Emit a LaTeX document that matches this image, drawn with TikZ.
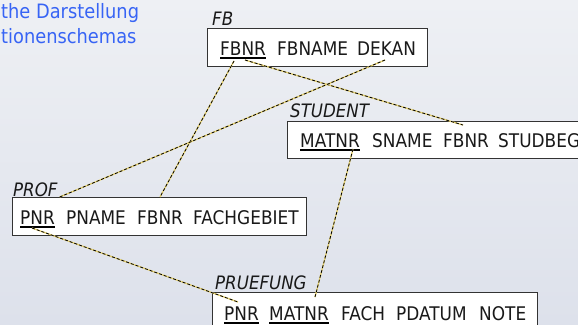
\documentclass[tikz,border=0pt]{standalone}
\usepackage{fontspec}
\setmainfont[FakeStretch=0.9]{DejaVu Sans}
\definecolor{bgA}{RGB}{238,240,244}
\definecolor{bgB}{RGB}{221,225,235}
\definecolor{ttl}{RGB}{55,100,245}
\definecolor{lk}{RGB}{232,210,110}
\tikzset{
  attr/.style={anchor=base west,inner sep=0pt,font=\fontsize{18.8}{20}\selectfont,text=black!90},
  rel/.style={anchor=base west,inner sep=0pt,font=\fontsize{18.5}{20}\selectfont\itshape,text=black!90},
  tbl/.style={draw=black!80,line width=0.9pt,fill=white},
  keyline/.style={line width=1.4pt,black},
  link/.style={line width=0.8pt,black,dash pattern=on 3pt off 2pt,
    preaction={draw=lk,solid,line width=1.3pt}},
  ttlstyle/.style={anchor=base west,inner sep=0pt,text=ttl,font=\fontsize{19.8}{22}\selectfont}
}
\begin{document}
\begin{tikzpicture}[x=1pt,y=-1pt]
\useasboundingbox (0,0) rectangle (578,324);
\shade[top color=bgA,bottom color=bgB] (0,0) rectangle (578,324);
% title
\node[ttlstyle] (t1) at (1,18) {the Darstellung};
\node[ttlstyle] (t2) at (1,43) {tionenschemas};
% tables
\draw[tbl] (207,28) rectangle (427,66);
\draw[tbl] (287,121) rectangle (600,158);
\draw[tbl] (12,197) rectangle (306,235);
\draw[tbl] (212,292) rectangle (537,340);
% relation names
\node[rel] (rfb) at (212,25) {FB};
\node[rel] (rst) at (290,117) {STUDENT};
\node[rel] (rpr) at (13,196) {PROF};
\node[rel] (rpu) at (215,289) {PRUEFUNG};
% FB
\node[attr] (fbfbnr) at (220,55) {FBNR};
\node[attr] (fbname) at (277,55) {FBNAME};
\node[attr] (fbdekan) at (357,55) {DEKAN};
% STUDENT
\node[attr] (stmatnr) at (300,147) {MATNR};
\node[attr] (stsname) at (372,147) {SNAME};
\node[attr] (stfbnr) at (443,147) {FBNR};
\node[attr] (ststudbeg) at (498,147) {STUDBEG};
% PROF
\node[attr] (prpnr) at (20,224) {PNR};
\node[attr] (prpname) at (66,224) {PNAME};
\node[attr] (prfbnr) at (137,224) {FBNR};
\node[attr] (prfach) at (193,224) {FACHGEBIET};
% PRUEFUNG
\node[attr] (pupnr) at (224,320) {PNR};
\node[attr] (pumatnr) at (269,320) {MATNR};
\node[attr] (pufach) at (341,320) {FACH};
\node[attr] (pupdatum) at (396,320) {PDATUM};
\node[attr] (punote) at (479,320) {NOTE};
% key underlines
\foreach \n in {fbfbnr,stmatnr,prpnr,pupnr,pumatnr}{
  \draw[keyline] ([yshift=-3pt]\n.base west) -- ([yshift=-3pt]\n.base east);
}
% connector end points
\coordinate (a1) at ([xshift=14pt,yshift=-6pt]fbfbnr.base west);
\coordinate (a2) at ([xshift=25pt,yshift=-5pt]fbfbnr.base west);
\coordinate (a3) at ([xshift=28pt,yshift=-5pt]fbdekan.base west);
\coordinate (b1) at ([xshift=23pt,yshift=27pt]prfbnr.base west);
\coordinate (b2) at ([xshift=20pt,yshift=22pt]stfbnr.base west);
\coordinate (b3) at ([xshift=2pt,yshift=-1pt]rpr.base east);
\coordinate (c1) at ([xshift=12pt,yshift=-4pt]prpnr.base west);
\coordinate (c2) at ([xshift=14pt,yshift=18pt]pupnr.base west);
\coordinate (d1) at ([xshift=53pt,yshift=-2pt]stmatnr.base west);
\coordinate (d2) at ([xshift=46pt,yshift=23pt]pumatnr.base west);
\draw[link] (a1) -- (b1);
\draw[link] (a2) -- (b2);
\draw[link] (a3) -- (b3);
\draw[link] (c1) -- (c2);
\draw[link] (d1) -- (d2);
\end{tikzpicture}
\end{document}
